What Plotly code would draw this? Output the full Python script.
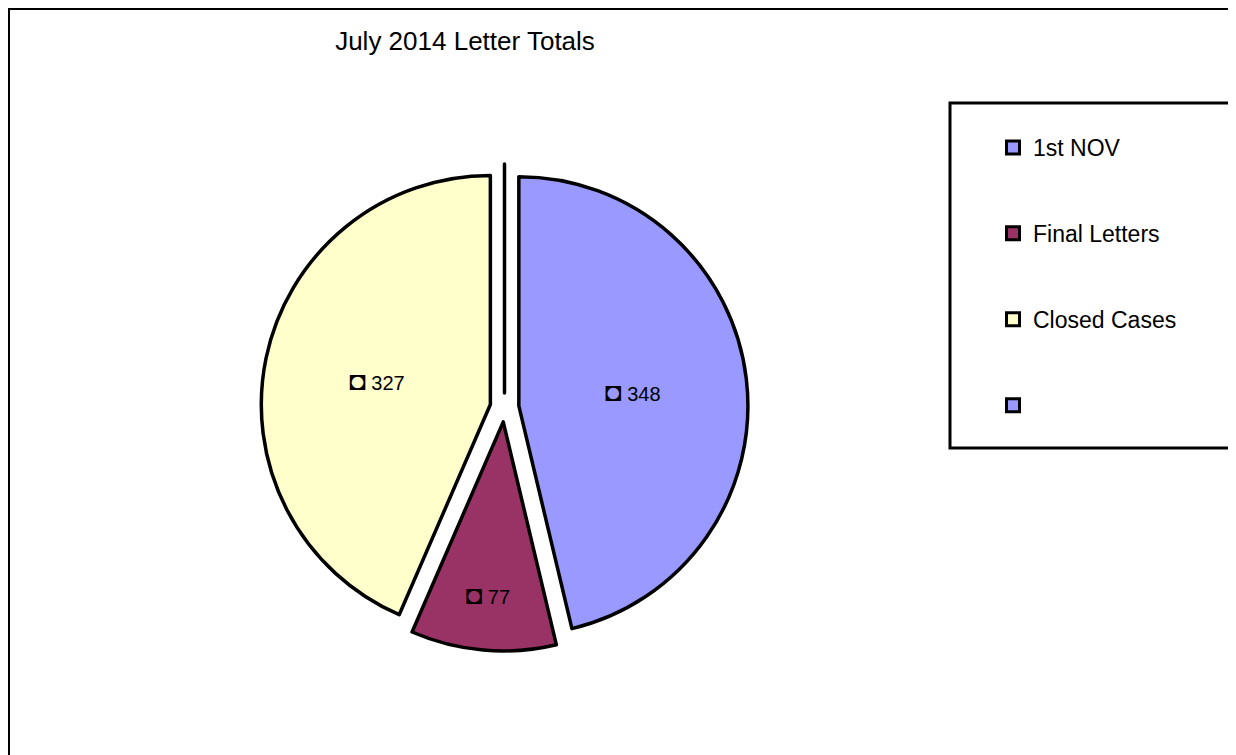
import plotly.graph_objects as go

# ---- data ----
categories = ["1st NOV", "Final Letters", "Closed Cases", " "]
letter_totals = [348, 77, 327, 0]
slice_colors = ["#9999FF", "#993366", "#FFFFCC", "#9999FF"]
chart_title = "July 2014 Letter Totals"

W, H = 1236, 755
FONT = "Liberation Sans, Arial, sans-serif"

templates = ["<span style='font-size:27px'>◘</span> %{value}" if v > 0 else ""
             for v in letter_totals]

fig = go.Figure()
fig.add_trace(go.Pie(
    labels=categories,
    values=letter_totals,
    sort=False,
    direction="clockwise",
    rotation=0,
    pull=[0.063] * len(letter_totals),
    marker=dict(colors=slice_colors, line=dict(color="black", width=3.5)),
    texttemplate=templates,
    textposition="inside",
    insidetextorientation="horizontal",
    textfont=dict(family=FONT, size=20, color="black"),
    showlegend=False,
    hoverinfo="label+value",
    domain=dict(x=[253 / W, 740 / W], y=[112 / H, 599 / H]),
))

# legend entries (one per category)
for name, col in zip(categories, slice_colors):
    fig.add_trace(go.Scatter(
        x=[None], y=[None], mode="markers", name=name, legendgroup=name,
        marker=dict(symbol="square", size=13, color=col,
                    line=dict(color="black", width=3)),
        hoverinfo="skip",
    ))

fig.update_layout(
    width=W, height=H,
    margin=dict(l=0, r=0, t=0, b=0),
    paper_bgcolor="white", plot_bgcolor="white",
    xaxis=dict(visible=False), yaxis=dict(visible=False),
    font=dict(family=FONT, color="black"),
    title=dict(text=chart_title, x=457 / W, xanchor="center", xref="paper",
               y=1 - 33 / H, yanchor="middle", yref="paper",
               font=dict(family=FONT, size=26, color="black")),
    legend=dict(x=985 / W, xanchor="left", y=1 - 118 / H, yanchor="top",
                traceorder="grouped", tracegroupgap=53,
                font=dict(family=FONT, size=23, color="black"),
                bgcolor="rgba(0,0,0,0)", borderwidth=0),
    shapes=[
        dict(type="rect", xref="paper", yref="paper",
             x0=1 / W, x1=1.05, y0=-0.05, y1=1 - 1 / H,
             line=dict(color="black", width=2), fillcolor="rgba(0,0,0,0)", layer="below"),
        dict(type="rect", xref="paper", yref="paper",
             x0=942 / W, x1=1.05, y0=1 - 440 / H, y1=1 - 95 / H,
             line=dict(color="black", width=3), fillcolor="rgba(0,0,0,0)", layer="below"),
    ],
)

fig.write_html("out.html")
